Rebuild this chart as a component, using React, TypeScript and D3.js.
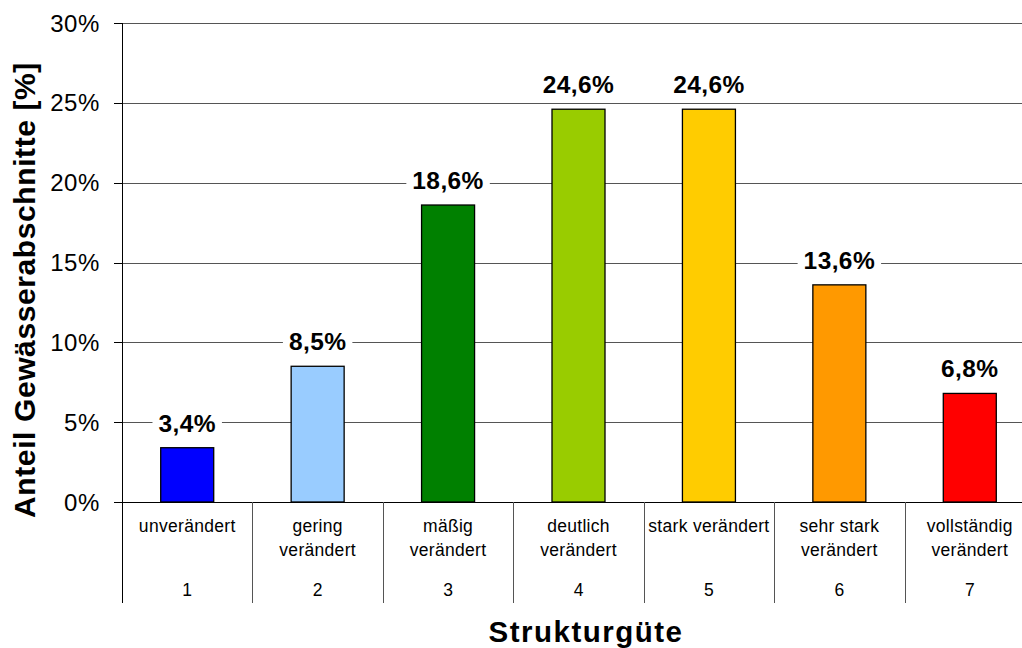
import React, { useEffect, useRef } from "react";
import * as d3 from "d3";

// Share of river sections per structural quality class
const classNumbers = ["1", "2", "3", "4", "5", "6", "7"];
const classNames = [
  ["unverändert"],
  ["gering", "verändert"],
  ["mäßig", "verändert"],
  ["deutlich", "verändert"],
  ["stark verändert"],
  ["sehr stark", "verändert"],
  ["vollständig", "verändert"],
];
const shares = [3.4, 8.5, 18.6, 24.6, 24.6, 13.6, 6.8];
const barColors = ["#0000FF", "#99CCFF", "#008000", "#99CC00", "#FFCC00", "#FF9900", "#FF0000"];
const yTicks = [0, 5, 10, 15, 20, 25, 30];

const W = 1022;
const H = 648;
const FONT = "'Liberation Sans', Arial, Helvetica, sans-serif";

const de = d3.formatLocale({ decimal: ",", thousands: ".", grouping: [3], currency: ["", " €"] });
const fmtValue = de.format(".1f");

export default function App() {
  const ref = useRef<SVGSVGElement | null>(null);

  useEffect(() => {
    const svg = d3.select(ref.current);
    svg.selectAll("*").remove();

    const left = 122;
    const right = 1035;
    const top = 23;
    const bottom = 502;
    const catBottom = 603;

    const x = d3.scaleBand<string>().domain(classNumbers).range([left, right]).paddingInner(0).paddingOuter(0);
    const y = d3.scaleLinear().domain([0, 30]).range([bottom, top]);
    const barW = 53;

    // gridlines
    svg
      .append("g")
      .selectAll("line")
      .data(yTicks.filter((t) => t > 0))
      .join("line")
      .attr("x1", left)
      .attr("x2", right)
      .attr("y1", (d) => Math.round(y(d)) + 0.5)
      .attr("y2", (d) => Math.round(y(d)) + 0.5)
      .attr("stroke", "#555")
      .attr("stroke-width", 1);

    // y ticks and labels
    const yt = svg.append("g");
    yt.selectAll("line")
      .data(yTicks)
      .join("line")
      .attr("x1", left - 8)
      .attr("x2", left)
      .attr("y1", (d) => Math.round(y(d)) + 0.5)
      .attr("y2", (d) => Math.round(y(d)) + 0.5)
      .attr("stroke", "#000");
    yt.selectAll("text")
      .data(yTicks)
      .join("text")
      .attr("x", 100)
      .attr("y", (d) => y(d) + 8.5)
      .attr("text-anchor", "end")
      .attr("font-family", FONT)
      .attr("font-size", 24)
      .attr("letter-spacing", 0.6)
      .attr("fill", "#000")
      .text((d) => `${d}%`);

    // bars
    svg
      .append("g")
      .selectAll("rect")
      .data(shares)
      .join("rect")
      .attr("x", (_, i) => x(classNumbers[i])! + x.bandwidth() / 2 - barW / 2)
      .attr("y", (d) => y(d))
      .attr("width", barW)
      .attr("height", (d) => y(0) - y(d))
      .attr("fill", (_, i) => barColors[i])
      .attr("stroke", "#000")
      .attr("stroke-width", 1.3);

    // value labels with white backing
    const lbl = svg.append("g");
    shares.forEach((v, i) => {
      const cx = x(classNumbers[i])! + x.bandwidth() / 2;
      const baseY = y(v) - 16;
      const g = lbl.append("g");
      const bg = g.append("rect").attr("fill", "#fff");
      const t = g
        .append("text")
        .attr("x", cx)
        .attr("y", baseY)
        .attr("text-anchor", "middle")
        .attr("font-family", FONT)
        .attr("font-size", 24.5)
        .attr("font-weight", "bold")
        .attr("letter-spacing", 0.4)
        .attr("fill", "#000")
        .text(`${fmtValue(v)}%`);
      const bb = (t.node() as SVGTextElement).getBBox();
      bg.attr("x", bb.x - 6)
        .attr("y", bb.y + 2)
        .attr("width", bb.width + 12)
        .attr("height", bb.height - 2);
    });

    // axes lines
    svg
      .append("line")
      .attr("x1", left + 0.5)
      .attr("x2", left + 0.5)
      .attr("y1", top)
      .attr("y2", catBottom)
      .attr("stroke", "#000");
    svg
      .append("line")
      .attr("x1", left - 8)
      .attr("x2", right)
      .attr("y1", Math.round(bottom) + 0.5)
      .attr("y2", Math.round(bottom) + 0.5)
      .attr("stroke", "#000");

    // category separators
    svg
      .append("g")
      .selectAll("line")
      .data(classNumbers.slice(1))
      .join("line")
      .attr("x1", (d) => Math.round(x(d)!) + 0.5)
      .attr("x2", (d) => Math.round(x(d)!) + 0.5)
      .attr("y1", bottom)
      .attr("y2", catBottom)
      .attr("stroke", "#555");

    // category labels
    const cat = svg.append("g");
    classNumbers.forEach((c, i) => {
      const cx = x(c)! + x.bandwidth() / 2;
      classNames[i].forEach((line, j) => {
        cat
          .append("text")
          .attr("x", cx)
          .attr("y", 532 + j * 24)
          .attr("text-anchor", "middle")
          .attr("font-family", FONT)
          .attr("font-size", 17.5)
          .attr("letter-spacing", 0.3)
          .attr("fill", "#000")
          .text(line);
      });
      cat
        .append("text")
        .attr("x", cx)
        .attr("y", 596)
        .attr("text-anchor", "middle")
        .attr("font-family", FONT)
        .attr("font-size", 17.5)
        .attr("fill", "#000")
        .text(c);
    });

    // axis titles
    svg
      .append("text")
      .attr("x", 586)
      .attr("y", 642)
      .attr("text-anchor", "middle")
      .attr("font-family", FONT)
      .attr("font-size", 29.5)
      .attr("font-weight", "bold")
      .attr("letter-spacing", 1.5)
      .attr("fill", "#000")
      .text("Strukturgüte");

    svg
      .append("text")
      .attr("transform", "translate(35,290) rotate(-90)")
      .attr("text-anchor", "middle")
      .attr("font-family", FONT)
      .attr("font-size", 30)
      .attr("font-weight", "bold")
      .attr("letter-spacing", 0.6)
      .attr("fill", "#000")
      .text("Anteil Gewässerabschnitte [%]");
  }, []);

  return (
    <svg
      ref={ref}
      width={W}
      height={H}
      style={{ position: "absolute", left: 0, top: 0, background: "#fff" }}
    />
  );
}
